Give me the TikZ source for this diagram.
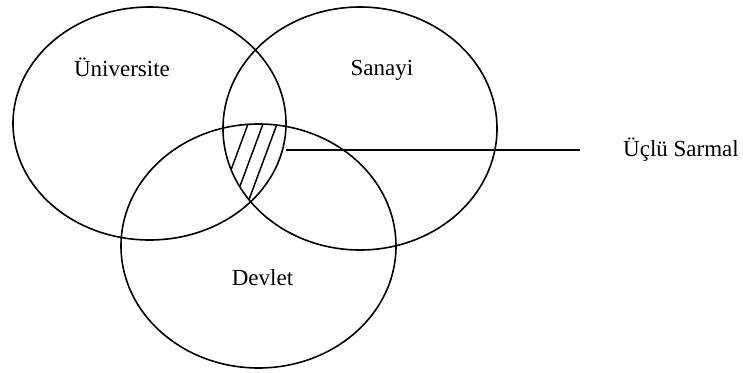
\documentclass[tikz,border=0pt]{standalone}
\usepackage{fontspec}
\setmainfont{Liberation Serif}
\usetikzlibrary{positioning}

\begin{document}
\begin{tikzpicture}[
  x=1pt, y=-1pt,
  ring/.style={line width=1.6pt},
  hatch/.style={line width=1.5pt},
  lbl/.style={inner sep=0pt, font=\fontsize{23}{27}\selectfont}
]
\useasboundingbox (0,0) rectangle (743,372);

% circle centres
\coordinate (uniC) at (149.5,123.5);
\coordinate (sanC) at (360,128.5);
\coordinate (devC) at (258.5,246);

\draw[ring] (uniC) ellipse [x radius=136.5, y radius=116.5];
\draw[ring] (sanC) ellipse [x radius=137, y radius=121.5];
\draw[ring] (devC) ellipse [x radius=137.5, y radius=122];

% hatched common part
\begin{scope}
  \clip (uniC) ellipse [x radius=136.5, y radius=116.5];
  \clip (sanC) ellipse [x radius=137, y radius=121.5];
  \clip (devC) ellipse [x radius=137.5, y radius=122];
  \foreach \hx in {248,263,277}
    \draw[hatch] (\hx+10,97) -- (\hx-30,205);
\end{scope}

\node[lbl, anchor=base] (uni) at (122,76) {Üniversite};
\node[lbl, anchor=base] (san) at (382,75) {Sanayi};
\node[lbl, anchor=base] (dev) at (262.5,285) {Devlet};
\node[lbl, anchor=west] (sarmal) at (623,150) {Üçlü Sarmal};

\coordinate (hatchR) at (286,150);
\coordinate (lineEnd) at (580,150);
\draw[ring] (hatchR) -- (lineEnd);
\end{tikzpicture}
\end{document}
